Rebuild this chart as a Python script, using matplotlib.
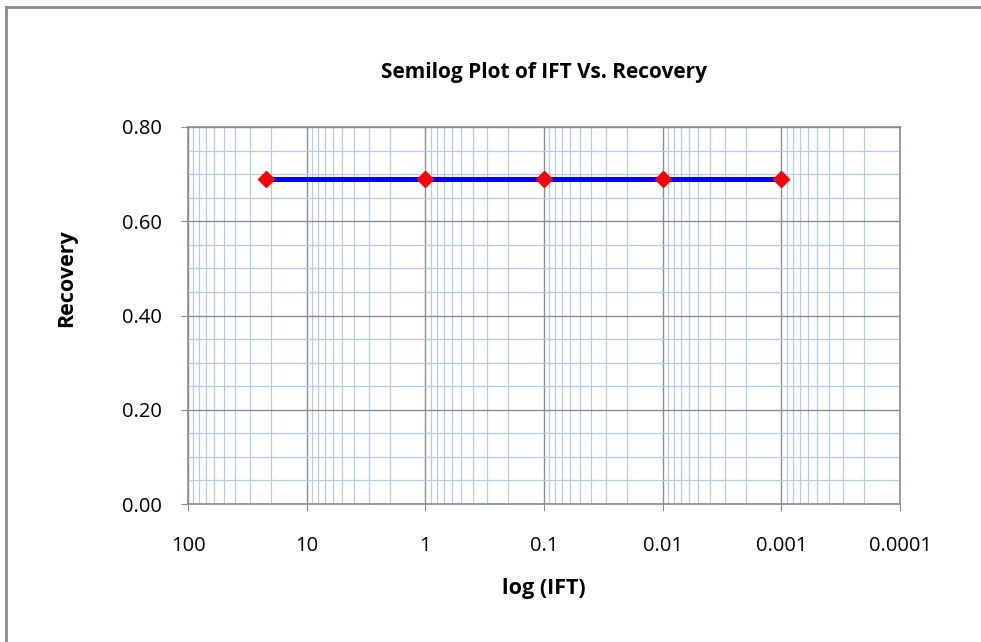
import matplotlib
matplotlib.use("Agg")
import matplotlib.pyplot as plt
from matplotlib.ticker import FixedLocator, FixedFormatter, LogLocator, MultipleLocator, NullFormatter
from matplotlib.lines import Line2D

# Data
ift = [22, 1, 0.1, 0.01, 0.001]
recovery = [0.69, 0.69, 0.69, 0.69, 0.69]
xtick_vals = [100, 10, 1, 0.1, 0.01, 0.001, 0.0001]
xtick_labels = ["100", "10", "1", "0.1", "0.01", "0.001", "0.0001"]
ytick_vals = [0.0, 0.2, 0.4, 0.6, 0.8]
ytick_labels = ["0.00", "0.20", "0.40", "0.60", "0.80"]

plt.rcParams['font.family'] = ['Open Sans', 'DejaVu Sans']

fig = plt.figure(figsize=(9.81, 6.42), dpi=100)
W, H = 981, 642
ax = fig.add_axes([188 / W, 1 - 504 / H, (900 - 188) / W, (504 - 127) / H])

ax.set_xscale('log')
ax.set_xlim(100, 0.0001)
ax.set_ylim(0, 0.8)

ax.xaxis.set_major_locator(FixedLocator(xtick_vals))
ax.xaxis.set_major_formatter(FixedFormatter(xtick_labels))
ax.xaxis.set_minor_locator(LogLocator(base=10, subs=range(2, 10), numticks=20))
ax.xaxis.set_minor_formatter(NullFormatter())
ax.yaxis.set_major_locator(FixedLocator(ytick_vals))
ax.yaxis.set_major_formatter(FixedFormatter(ytick_labels))
ax.yaxis.set_minor_locator(MultipleLocator(0.05))

ax.grid(which='minor', color='#b3cbec', linewidth=0.9)
ax.grid(which='major', color='#8c8c8c', linewidth=1.0)
ax.set_axisbelow(True)

for s in ax.spines.values():
    s.set_color('#8c8c8c')
    s.set_linewidth(1.2)

ax.tick_params(which='major', length=5, color='#8c8c8c', labelsize=14.5)
ax.tick_params(axis='y', which='major', pad=14)
ax.tick_params(axis='x', which='major', pad=18)
ax.tick_params(which='minor', length=0)

ax.plot(ift, recovery, color='#0000ff', linewidth=3.6, zorder=3,
        marker='D', markersize=8.5, markerfacecolor='#ff0000', markeredgecolor='#ff0000')

ax.set_title('Semilog Plot of IFT Vs. Recovery', fontsize=15, fontweight='bold', pad=35)
ax.set_xlabel('log (IFT)', fontsize=15.5, fontweight='bold', labelpad=16)
ax.set_ylabel('Recovery', fontsize=15.5, fontweight='bold')
ax.yaxis.set_label_coords(-0.156, 0.60)

# outer chart frame (top and left edges visible)
fig.add_artist(Line2D([6 / W, 1.0], [1 - 7 / H, 1 - 7 / H], transform=fig.transFigure,
                      color='#8c8c8c', linewidth=2))
fig.add_artist(Line2D([6 / W, 6 / W], [0.0, 1 - 7 / H], transform=fig.transFigure,
                      color='#8c8c8c', linewidth=2))

fig.savefig('out.png', dpi=100, facecolor='white')
